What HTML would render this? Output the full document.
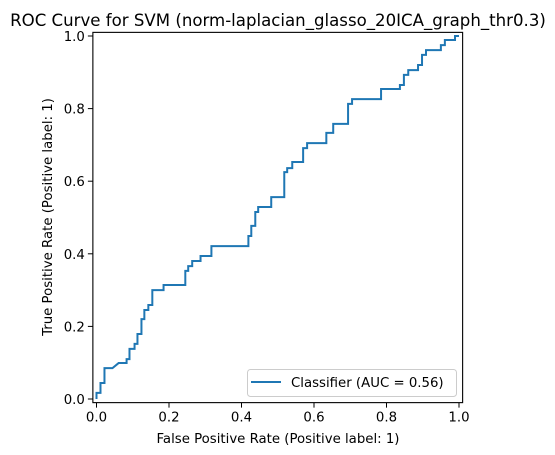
<!DOCTYPE html>
<html><head><meta charset="utf-8"><style>
body{margin:0;background:#fff;}
svg{display:block;font-family:"DejaVu Sans","Liberation Sans",sans-serif;}
</style></head><body>
<svg id="chart" width="555" height="455">
<rect width="555" height="455" fill="#fff"/>
<text x="278" y="26" font-size="16.6" text-anchor="middle">ROC Curve for SVM (norm-laplacian_glasso_20ICA_graph_thr0.3)</text>
<g id="plot"></g>
<text x="278" y="443" font-size="13.3" text-anchor="middle">False Positive Rate (Positive label: 1)</text>
<text transform="translate(52,217) rotate(-90)" font-size="13.3" text-anchor="middle">True Positive Rate (Positive label: 1)</text>
<g>
<rect x="247.5" y="369.5" width="209" height="27" rx="3" fill="#fff" fill-opacity="0.8" stroke="#ccc"/>
<line x1="251" y1="382" x2="281" y2="382" stroke="#1f77b4" stroke-width="2"/>
<text x="291" y="387" font-size="13.3">Classifier (AUC = 0.56)</text>
</g>
</svg>
<script>
const fpr=[0,0,0.011,0.011,0.022,0.022,0.044,0.061,0.083,0.083,0.091,0.091,0.105,0.105,0.113,0.113,0.124,0.124,0.132,0.132,0.143,0.143,0.154,0.154,0.185,0.185,0.245,0.245,0.253,0.253,0.264,0.264,0.287,0.287,0.317,0.317,0.419,0.419,0.427,0.427,0.438,0.438,0.446,0.446,0.482,0.482,0.518,0.518,0.526,0.526,0.540,0.540,0.570,0.570,0.581,0.581,0.634,0.634,0.653,0.653,0.694,0.694,0.705,0.705,0.785,0.785,0.837,0.837,0.848,0.848,0.860,0.860,0.887,0.887,0.898,0.898,0.909,0.909,0.950,0.950,0.961,0.961,0.989,0.989,1];
const tpr=[0,0.017,0.017,0.044,0.044,0.085,0.085,0.099,0.099,0.11,0.11,0.138,0.138,0.152,0.152,0.179,0.179,0.22,0.22,0.245,0.245,0.259,0.259,0.30,0.30,0.314,0.314,0.353,0.353,0.366,0.366,0.38,0.38,0.394,0.394,0.421,0.421,0.449,0.449,0.477,0.477,0.515,0.515,0.529,0.529,0.556,0.556,0.625,0.625,0.636,0.636,0.653,0.653,0.691,0.691,0.705,0.705,0.733,0.733,0.758,0.758,0.813,0.813,0.826,0.826,0.854,0.854,0.865,0.865,0.893,0.893,0.906,0.906,0.92,0.92,0.948,0.948,0.961,0.961,0.975,0.975,0.989,0.989,1,1];
const xTicks=[0,0.2,0.4,0.6,0.8,1.0];
const yTicks=[0,0.2,0.4,0.6,0.8,1.0];
const xTickLabels=["0.0","0.2","0.4","0.6","0.8","1.0"];
const yTickLabels=["0.0","0.2","0.4","0.6","0.8","1.0"];
const NS="http://www.w3.org/2000/svg";
const X0=96.5,X1=459,Y0=399,Y1=36;
function sx(v){return X0+v*(X1-X0);}
function sy(v){return Y0-v*(Y0-Y1);}
const g=document.getElementById('plot');
function mk(t,a){const e=document.createElementNS(NS,t);for(const k in a)e.setAttribute(k,a[k]);g.appendChild(e);return e;}
const path=mk('path',{d:fpr.map((f,i)=>(i?'L':'M')+sx(f).toFixed(2)+','+sy(tpr[i]).toFixed(2)).join(''),fill:'none',stroke:'#1f77b4','stroke-width':2});


const fr=mk('rect',{x:sx(-0.01),y:sy(1.01),width:sx(1.01)-sx(-0.01),height:sy(-0.01)-sy(1.01),fill:'none',stroke:'#000','stroke-width':1.1});


xTicks.forEach((v,i)=>{
 const l=mk('line',{x1:sx(v),x2:sx(v),y1:sy(-0.01),y2:sy(-0.01)+5,stroke:'#000'});
 
 
 const t=mk('text',{x:sx(v),y:sy(-0.01)+19,'font-size':13.3,'text-anchor':'middle'});
 t.textContent=xTickLabels[i];
 
 
});
yTicks.forEach((v,i)=>{
 const l=mk('line',{x1:sx(-0.01)-5,x2:sx(-0.01),y1:sy(v),y2:sy(v),stroke:'#000'});
 
 
 const t=mk('text',{x:sx(-0.01)-8,y:sy(v)+5,'font-size':13.3,'text-anchor':'end'});
 t.textContent=yTickLabels[i];
 
 
});
</script>
</body></html>
